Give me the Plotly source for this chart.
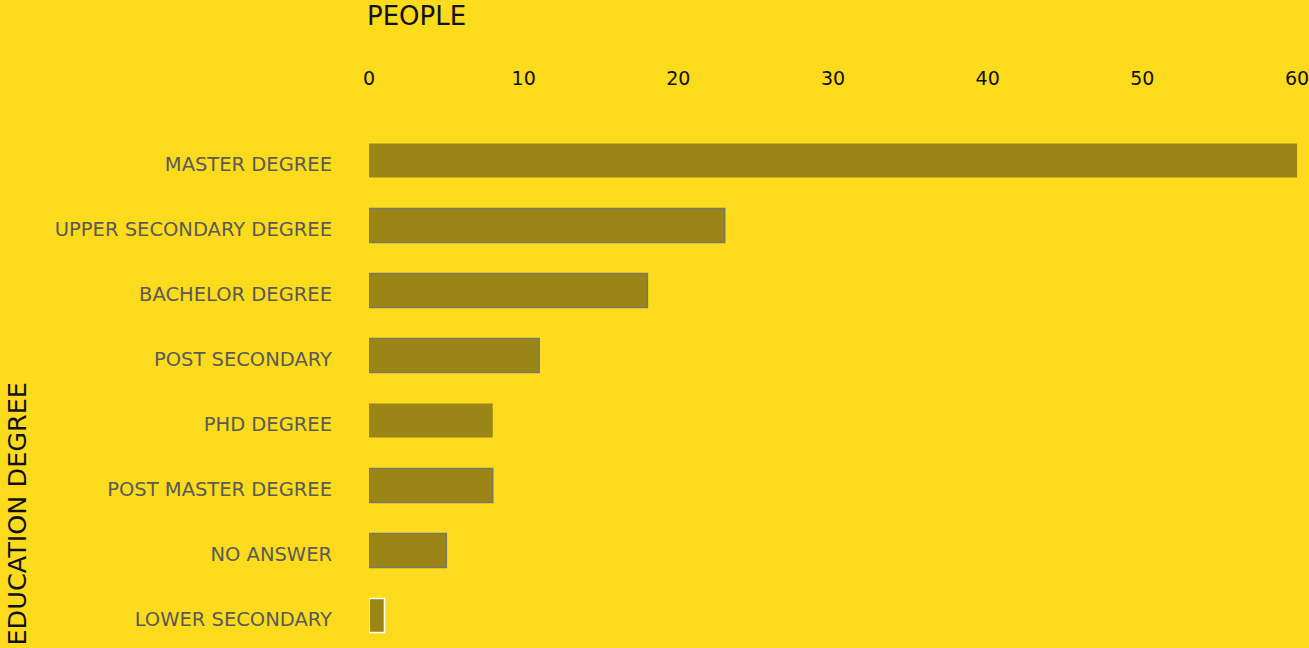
import plotly.graph_objects as go

# Survey respondents by highest education degree
categories = [
    "MASTER DEGREE",
    "UPPER SECONDARY DEGREE",
    "BACHELOR DEGREE",
    "POST SECONDARY",
    "PHD DEGREE",
    "POST MASTER DEGREE",
    "NO ANSWER",
    "LOWER SECONDARY",
]
people = [60, 23, 18, 11, 8, 8, 5, 1]
x_ticks = [0, 10, 20, 30, 40, 50, 60]

BG = "#FBDB1C"
BAR = "#9A8516"
outline_colors = ["rgba(0,0,0,0)", "#7C7A66", "#7C7A66", "#7C7A66",
                  "rgba(0,0,0,0)", "#7C7A66", "#7C7A66", "#FFFFFF"]
outline_widths = [0, 1.5, 1.5, 1.5, 0, 1.5, 1.5, 1.5]

W, H = 1309, 648
ML, MR, MT, MB = 369, 12, 128, 0
PW, PH = W - ML - MR, H - MT - MB

fig = go.Figure(
    go.Bar(
        x=people,
        y=categories,
        orientation="h",
        width=0.52,
        marker=dict(color=BAR, line=dict(color=outline_colors, width=outline_widths)),
        hoverinfo="x+y",
    )
)

fig.update_layout(
    width=W,
    height=H,
    paper_bgcolor=BG,
    plot_bgcolor=BG,
    margin=dict(l=ML, r=MR, t=MT, b=MB),
    showlegend=False,
    xaxis=dict(
        side="top",
        range=[0, 60],
        tickvals=x_ticks,
        showgrid=False,
        zeroline=False,
        showline=False,
        ticks="",
        ticklabelstandoff=38,
        ticklabeloverflow="allow",
        tickfont=dict(family="DejaVu Sans", size=19, color="#111111"),
    ),
    yaxis=dict(
        autorange="reversed",
        showgrid=False,
        zeroline=False,
        showline=False,
        ticks="",
        ticklabelstandoff=36,
        ticklabelshift=-4,
        tickfont=dict(family="DejaVu Sans", size=19.5, color="#5A5A5A"),
    ),
    annotations=[
        dict(
            text="PEOPLE",
            xref="paper", yref="paper",
            x=0, y=(H - 16) / PH,
            xanchor="left", yanchor="middle",
            xshift=-4,
            showarrow=False,
            font=dict(family="DejaVu Sans", size=26, color="#111111"),
        ),
        dict(
            text="EDUCATION DEGREE",
            xref="paper", yref="paper",
            x=(16 - ML) / PW, y=0 / PH,
            xanchor="center", yanchor="bottom",
            textangle=-90,
            showarrow=False,
            font=dict(family="DejaVu Sans", size=25.5, color="#111111"),
        ),
    ],
)

fig.write_html("out.html")
